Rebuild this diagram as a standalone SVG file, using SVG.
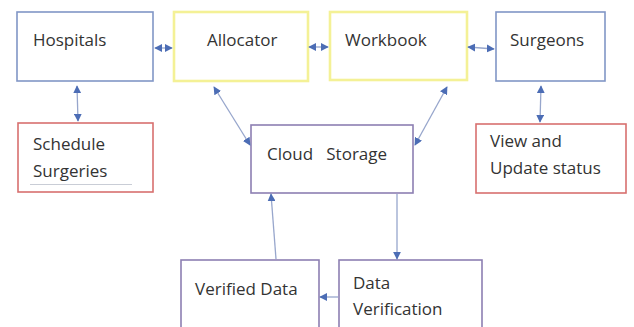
<svg xmlns="http://www.w3.org/2000/svg" width="634" height="327" viewBox="0 0 634 327">
<defs>
<style>
.box{fill:#fff;stroke-width:1.6}
.blue{stroke:#8196c6}
.yel{stroke:#f4f196;stroke-width:2.6}
.red{stroke:#d8706f}
.pur{stroke:#8d7fb2}
text{font-family:"Open Sans","Liberation Sans",sans-serif;font-size:17px;fill:#333}
.c{stroke:#97a6cc;stroke-width:1.3;fill:none}
</style>
<marker id="ah" viewBox="0 0 10 10" refX="9" refY="5" markerWidth="8" markerHeight="8" orient="auto-start-reverse" markerUnits="userSpaceOnUse">
<path d="M0,0 L10,5 L0,10 z" fill="#4c6db5"/>
</marker>
</defs>
<rect width="634" height="327" fill="#fff"/>
<g id="hospitals"><rect class="box blue" x="17" y="12" width="136" height="69"/><text x="33" y="46">Hospitals</text></g>
<g id="allocator"><rect class="box yel" x="174" y="12" width="134" height="69"/><text x="207" y="46">Allocator</text></g>
<g id="workbook"><rect class="box yel" x="330" y="12" width="137" height="68"/><text x="345" y="46">Workbook</text></g>
<g id="surgeons"><rect class="box blue" x="496" y="12" width="109" height="69"/><text x="510" y="46">Surgeons</text></g>
<g id="schedule"><rect class="box red" x="18" y="123" width="135" height="69"/><text x="33" y="150">Schedule</text><text x="33" y="177">Surgeries</text><line x1="30" y1="184.5" x2="132" y2="184.5" stroke="#c9cdd6" stroke-width="1"/></g>
<g id="cloud"><rect class="box pur" x="251" y="125" width="162" height="68"/><text x="267" y="160" xml:space="preserve">Cloud   Storage</text></g>
<g id="view"><rect class="box red" x="476" y="124" width="150" height="69"/><text x="490" y="147">View and</text><text x="490" y="174">Update status</text></g>
<g id="verified"><rect class="box pur" x="181" y="260" width="138" height="80"/><text x="195" y="295">Verified Data</text></g>
<g id="verification"><rect class="box pur" x="339" y="260" width="143" height="80"/><text x="353" y="289">Data</text><text x="353" y="315">Verification</text></g>
<g id="connectors">
<line class="c" x1="155" y1="48" x2="172" y2="48" marker-start="url(#ah)" marker-end="url(#ah)"/>
<line class="c" x1="309" y1="47" x2="328" y2="47" marker-start="url(#ah)" marker-end="url(#ah)"/>
<line class="c" x1="468" y1="47" x2="494" y2="49" marker-start="url(#ah)" marker-end="url(#ah)"/>
<line class="c" x1="77" y1="86" x2="78" y2="121" marker-start="url(#ah)" marker-end="url(#ah)"/>
<line class="c" x1="541" y1="86" x2="540" y2="122" marker-start="url(#ah)" marker-end="url(#ah)"/>
<line class="c" x1="214" y1="87" x2="250" y2="145" marker-start="url(#ah)" marker-end="url(#ah)"/>
<line class="c" x1="447" y1="87" x2="415" y2="145" marker-start="url(#ah)" marker-end="url(#ah)"/>
<line class="c" x1="397" y1="194" x2="397" y2="259" marker-end="url(#ah)"/>
<line class="c" x1="276" y1="259" x2="271" y2="194" marker-end="url(#ah)"/>
<line class="c" x1="338" y1="297" x2="320" y2="297" marker-end="url(#ah)"/>
</g>
</svg>
